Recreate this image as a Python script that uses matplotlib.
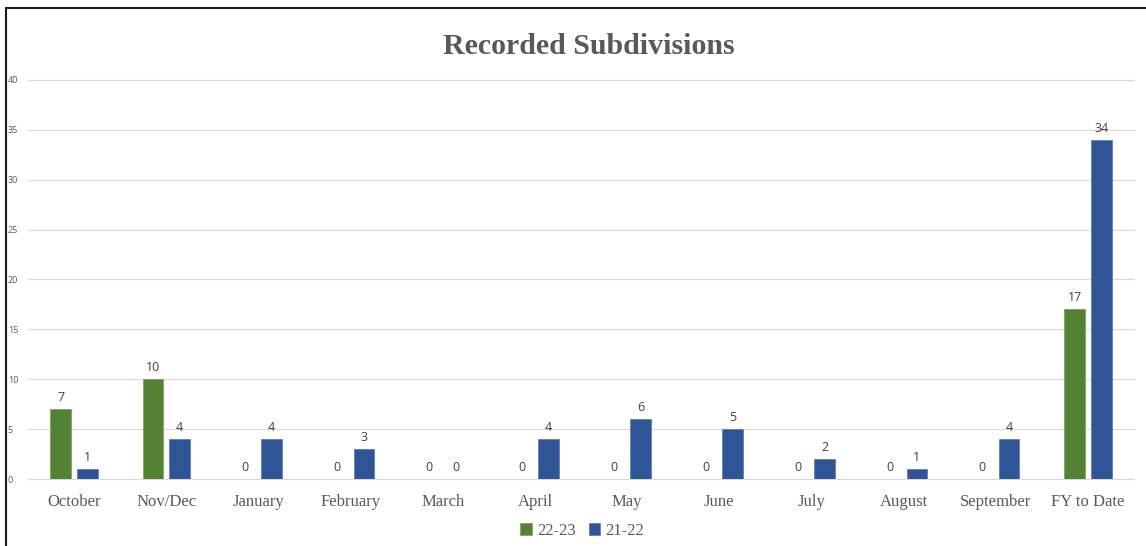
import matplotlib.pyplot as plt
import numpy as np
from matplotlib.patches import Rectangle

months = ['October', 'Nov/Dec', 'January', 'February', 'March', 'April', 'May',
          'June', 'July', 'August', 'September', 'FY to Date']
fy2223 = [7, 10, 0, 0, 0, 0, 0, 0, 0, 0, 0, 17]
fy2122 = [1, 4, 4, 3, 0, 4, 6, 5, 2, 1, 4, 34]
yticks = [0, 5, 10, 15, 20, 25, 30, 35, 40]

green = '#548235'
blue = '#2F5597'

fig = plt.figure(figsize=(11.46, 5.46), dpi=100)
ax = fig.add_axes([28 / 1146, 0.1227, 1106 / 1146, 0.7308])

x = np.arange(len(months))
w = 0.225
off = 0.145
b1 = ax.bar(x - off, fy2223, w, color=green, edgecolor='#7fa65f', linewidth=0.6, label='22-23', zorder=3)
b2 = ax.bar(x + off, fy2122, w, color=blue, edgecolor='#5f7fbf', linewidth=0.6, label='21-22', zorder=3)

for bars in (b1, b2):
    for r in bars:
        ax.text(r.get_x() + r.get_width() / 2, r.get_height() + 0.5, str(int(r.get_height())),
                ha='center', va='bottom', fontsize=9, color='#404040', family='Open Sans')

ax.set_xlim(-0.5, len(months) - 0.5)
ax.set_ylim(0, 40)
ax.set_yticks(yticks)
ax.set_yticklabels([str(t) for t in yticks], fontsize=6.5, color='#595959', family='Open Sans')
for lab in ax.get_yticklabels():
    lab.set_horizontalalignment('left')
ax.tick_params(axis='y', length=0, pad=14.5)
ax.set_xticks(x)
ax.set_xticklabels(months, fontsize=12, color='#595959', family='Liberation Serif')
ax.tick_params(axis='x', length=0, pad=11)
ax.grid(axis='y', color='#d9d9d9', linewidth=0.8, zorder=0)
for gl in ax.get_ygridlines():
    gl.set_clip_on(False)
for s in ax.spines.values():
    s.set_visible(False)

fig.text(0.514, 0.915, 'Recorded Subdivisions', ha='center', va='center', fontsize=21.5,
         color='#595959', family='Liberation Serif', fontweight='bold')

leg = fig.legend(handles=[b1, b2], loc='center', bbox_to_anchor=(0.508, 0.028), ncol=2, frameon=False,
                 prop={'family': 'Liberation Serif', 'size': 12}, handlelength=0.7, handleheight=0.7,
                 handletextpad=0.3, columnspacing=0.8)
for t in leg.get_texts():
    t.set_color('#595959')

fig.patches.append(Rectangle((6 / 1146, -0.1), 1.2, (546 - 8) / 546 + 0.1, transform=fig.transFigure,
                             fill=False, edgecolor='#1a1a1a', linewidth=1.5))

fig.savefig('out.png', dpi=100)
